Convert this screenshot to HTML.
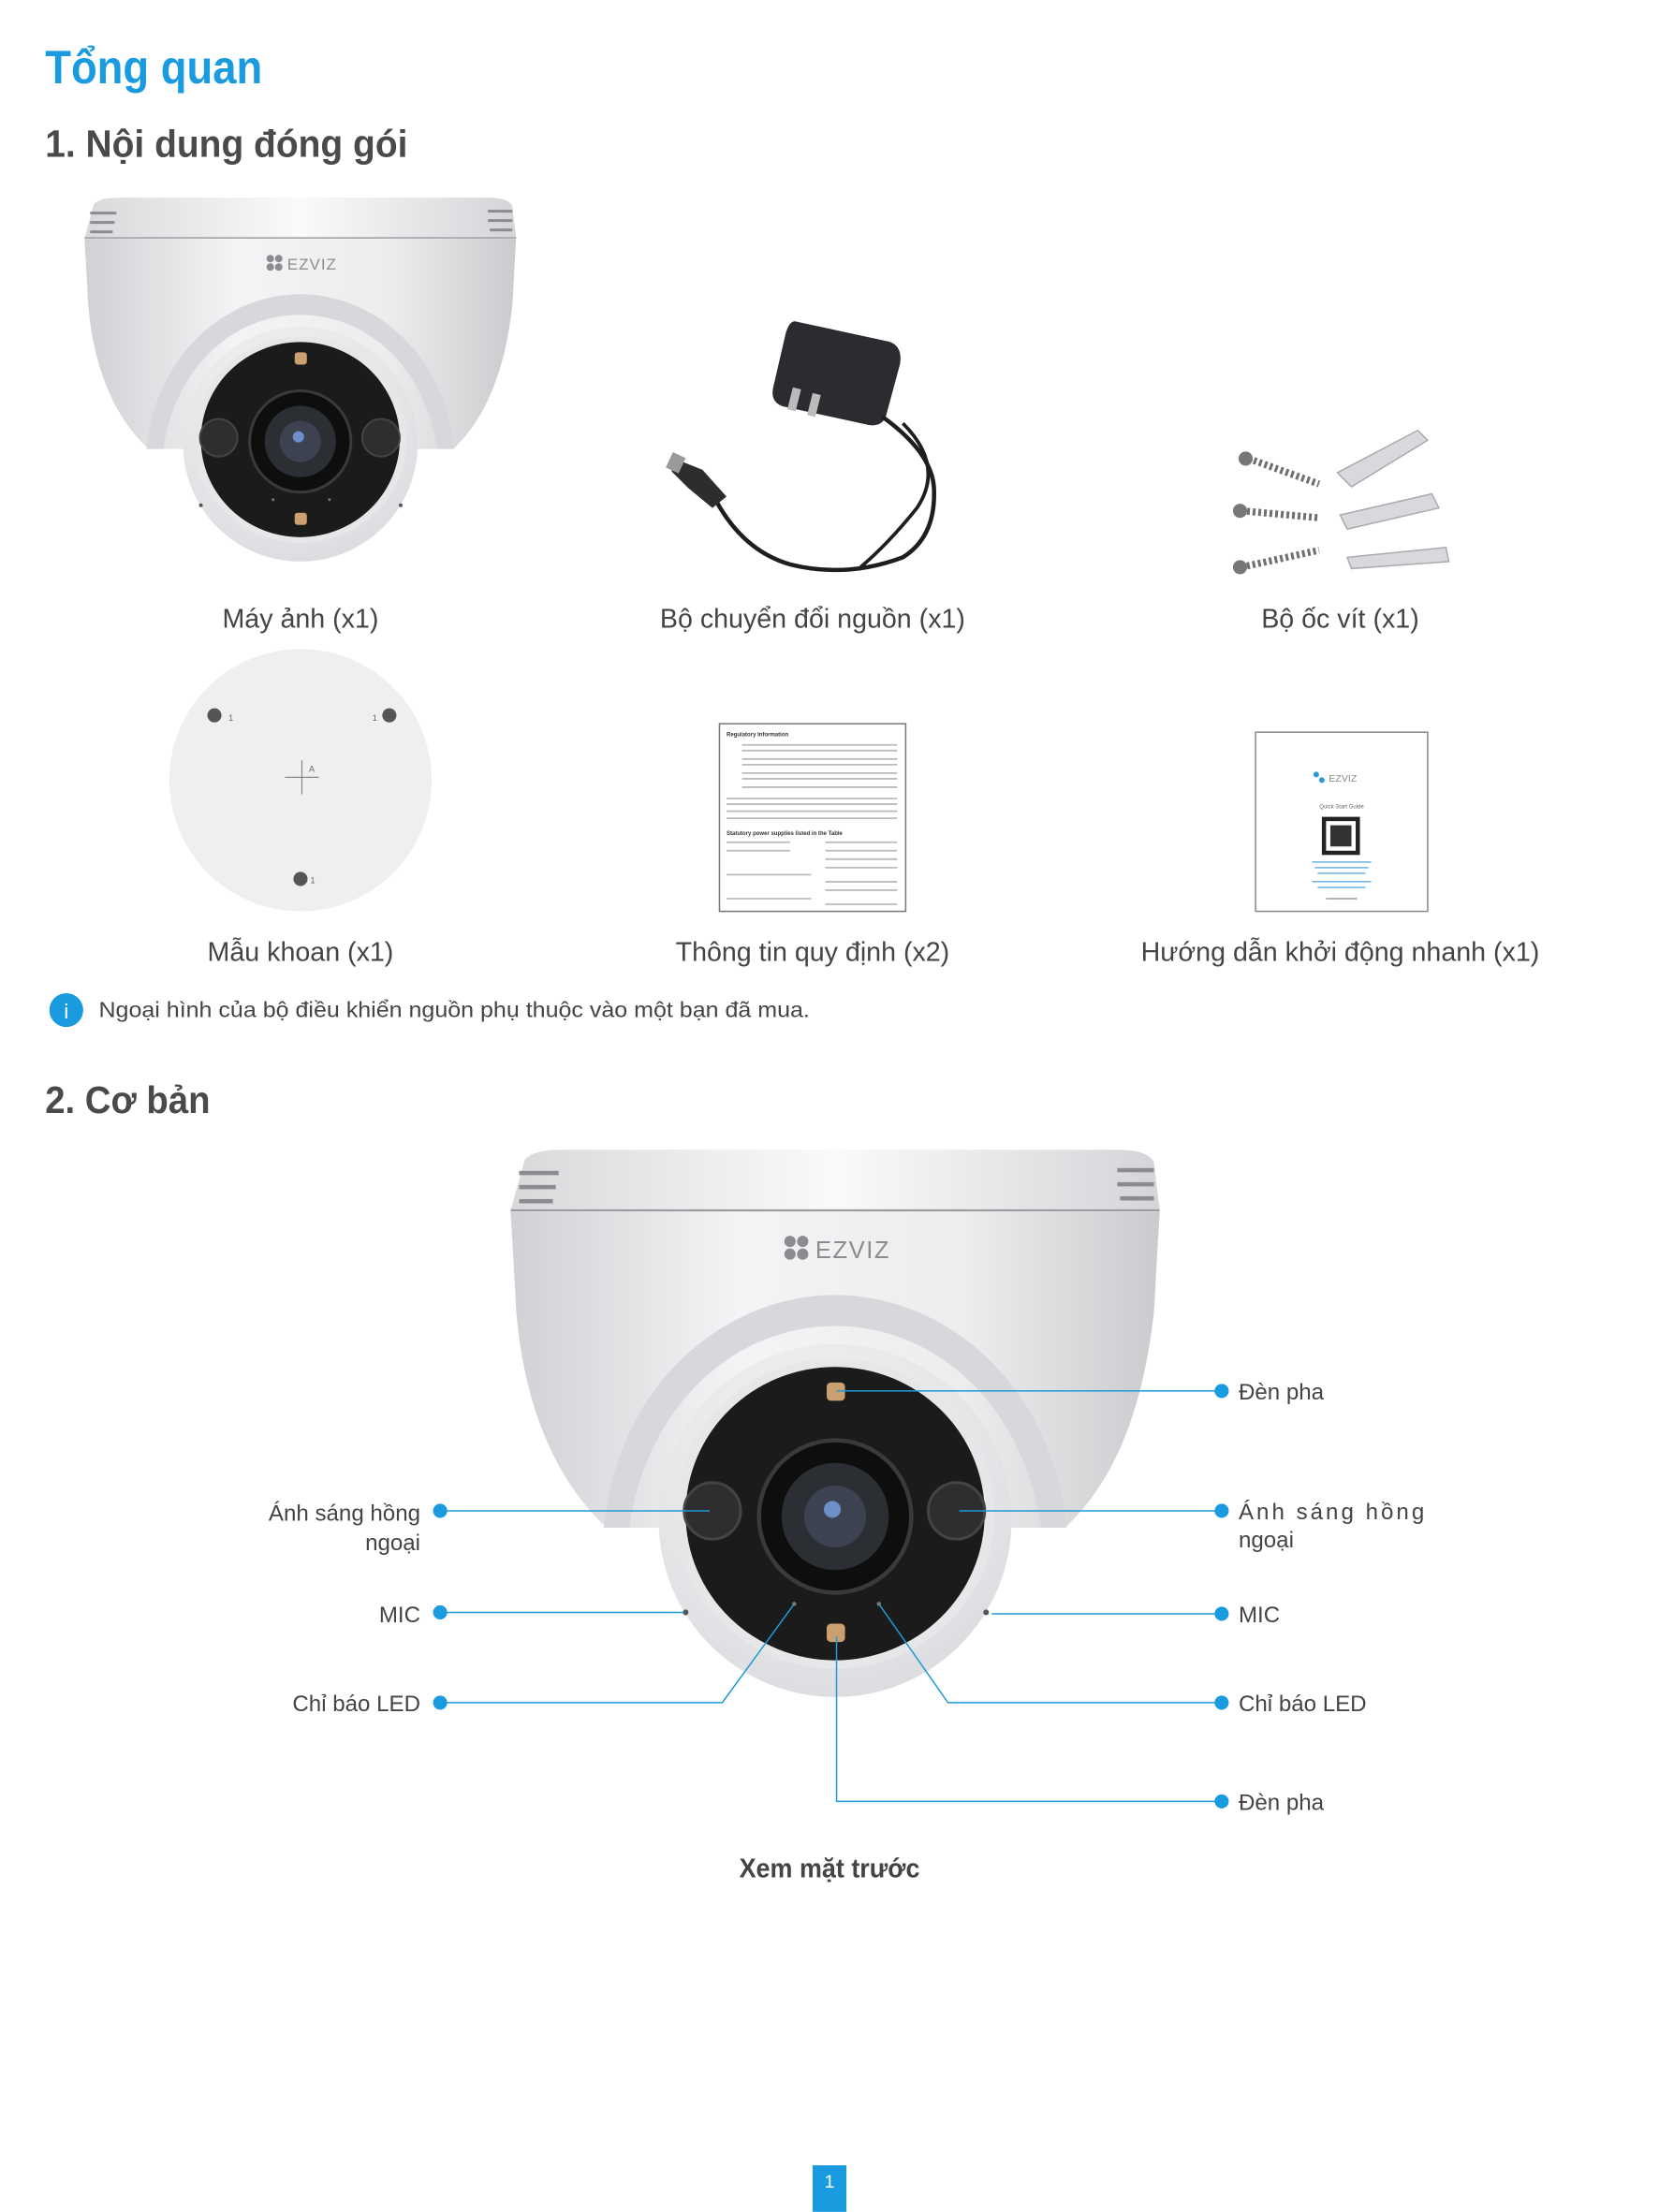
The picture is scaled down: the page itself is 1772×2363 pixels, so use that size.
<!DOCTYPE html>
<html><head><meta charset="utf-8"><style>
html,body{margin:0;padding:0;background:#fff;}
svg{display:block;}
text{font-family:"Liberation Sans",sans-serif;}
</style></head><body>
<svg width="1772" height="2363" viewBox="0 0 1176 1568" xmlns="http://www.w3.org/2000/svg">
<defs>
<linearGradient id="bodyG" x1="0" x2="1" y1="0" y2="0">
<stop offset="0" stop-color="#cfd1d4"/><stop offset="0.35" stop-color="#f3f4f5"/><stop offset="0.7" stop-color="#eceded"/><stop offset="1" stop-color="#c9cbce"/></linearGradient>
<linearGradient id="capG" x1="0" x2="1" y1="0" y2="0">
<stop offset="0" stop-color="#d8d9db"/><stop offset="0.5" stop-color="#fafafa"/><stop offset="1" stop-color="#d4d5d8"/></linearGradient>
<radialGradient id="ballG" cx="0.45" cy="0.35" r="0.7"><stop offset="0" stop-color="#fafafa"/><stop offset="1" stop-color="#d9dbde"/></radialGradient>
<g id="cam">
<path d="M372,822 Q378,815 398,815 L792,815 Q814,815 818,824 L822,858 L362,858 Z" fill="url(#capG)"/>
<line x1="362" y1="858" x2="822" y2="858" stroke="#9a9ca0" stroke-width="1.5"/>
<g fill="#8a8c90">
<rect x="368" y="830" width="28" height="3"/><rect x="368" y="840" width="26" height="3"/><rect x="368" y="850" width="24" height="3"/>
<rect x="792" y="828" width="26" height="3"/><rect x="792" y="838" width="26" height="3"/><rect x="794" y="848" width="24" height="3"/>
</g>
<path d="M362,859 L822,859 L818,930 C810,1000 790,1050 755,1083 L430,1083 C395,1050 372,1000 366,930 Z" fill="url(#bodyG)"/>
<text x="578" y="892" font-size="17" fill="#8a8c90" letter-spacing="1">EZVIZ</text>
<g fill="#8a8c90"><circle cx="560" cy="880" r="4"/><circle cx="569" cy="880" r="4"/><circle cx="560" cy="889" r="4"/><circle cx="569" cy="889" r="4"/></g>
<circle cx="592" cy="1078" r="125" fill="url(#ballG)"/>
<path d="M428,1083 C438,980 515,918 592,918 C669,918 746,980 756,1083 L738,1083 C726,998 665,940 592,940 C519,940 458,998 446,1083 Z" fill="#d6d8db"/>
<ellipse cx="592" cy="1073" rx="113" ry="110" fill="#e6e7e9"/>
<ellipse cx="592" cy="1073" rx="106" ry="104" fill="#1b1b1c"/>
<circle cx="592" cy="1075" r="54" fill="#0e0e0f" stroke="#3a3a3c" stroke-width="3"/>
<circle cx="592" cy="1075" r="38" fill="#2b2e33"/>
<circle cx="592" cy="1075" r="22" fill="#3d4250"/>
<circle cx="590" cy="1070" r="6" fill="#6d8fc8"/>
<circle cx="505" cy="1071" r="20" fill="#2e2e30" stroke="#444" stroke-width="2"/>
<circle cx="678" cy="1071" r="20" fill="#2e2e30" stroke="#444" stroke-width="2"/>
<rect x="586" y="980" width="13" height="13" rx="3" fill="#caa070"/>
<rect x="586" y="1151" width="13" height="13" rx="3" fill="#caa070"/>
<circle cx="563" cy="1137" r="1.5" fill="#777"/><circle cx="623" cy="1137" r="1.5" fill="#777"/>
<circle cx="486" cy="1143" r="2" fill="#555"/><circle cx="699" cy="1143" r="2" fill="#555"/>
</g>
</defs>

<text x="32" y="59" font-size="33" font-weight="bold" fill="#1a9be0" textLength="154" lengthAdjust="spacingAndGlyphs">Tổng quan</text>
<text x="32" y="111" font-size="27" font-weight="bold" fill="#4a4a4a" textLength="257" lengthAdjust="spacingAndGlyphs">1. Nội dung đóng gói</text>

<use href="#cam" transform="translate(-180.8,-402) scale(0.665)"/>

<!-- adapter -->
<g>
<path d="M565,228 L630,242 Q640,245 638,258 L628,295 Q625,303 615,301 L555,288 Q546,285 548,275 L557,236 Q560,226 565,228 Z" fill="#2b2c30"/>
<rect x="560" y="275" width="6" height="16" fill="#bbb" transform="rotate(14 563 283)"/>
<rect x="574" y="279" width="6" height="16" fill="#bbb" transform="rotate(14 577 287)"/>
<path d="M625,295 Q660,320 662,345 Q664,380 640,395 Q600,410 560,400 Q525,390 505,350" fill="none" stroke="#1e1e1e" stroke-width="3"/>
<path d="M640,300 Q670,330 650,360 Q630,385 610,402" fill="none" stroke="#1e1e1e" stroke-width="2.5"/>
<path d="M478,325 L498,333 L515,352 L505,360 L488,346 L476,334 Z" fill="#2d2d30"/>
<rect x="474" y="322" width="10" height="12" fill="#9a9a9a" transform="rotate(25 479 328)"/>
</g>

<!-- screws -->
<g>
<g stroke="#6e6f72" stroke-width="5" stroke-dasharray="2 2">
<line x1="885" y1="325" x2="935" y2="343"/>
<line x1="880" y1="362" x2="935" y2="367"/>
<line x1="880" y1="402" x2="935" y2="390"/>
</g>
<g fill="#777"><circle cx="883" cy="325" r="5"/><circle cx="879" cy="362" r="5"/><circle cx="879" cy="402" r="5"/></g>
<g fill="#d8d9dc" stroke="#a9abae">
<path d="M948,335 L1005,305 L1012,312 L958,345 Z"/>
<path d="M950,365 L1015,350 L1020,360 L955,375 Z"/>
<path d="M955,395 L1025,388 L1027,398 L958,403 Z"/>
</g>
</g>

<text x="213" y="445" font-size="19" fill="#444" text-anchor="middle">Máy ảnh (x1)</text>
<text x="576" y="445" font-size="19" fill="#444" text-anchor="middle">Bộ chuyển đổi nguồn (x1)</text>
<text x="950" y="445" font-size="19" fill="#444" text-anchor="middle">Bộ ốc vít (x1)</text>

<!-- drill template -->
<circle cx="213" cy="553" r="93" fill="#efefef"/>
<g fill="#555"><circle cx="152" cy="507" r="5"/><circle cx="276" cy="507" r="5"/><circle cx="213" cy="623" r="5"/></g>
<g stroke="#888" stroke-width="0.8"><line x1="202" y1="551" x2="226" y2="551"/><line x1="214" y1="539" x2="214" y2="563"/></g>
<text x="162" y="511" font-size="6" fill="#666">1</text><text x="264" y="511" font-size="6" fill="#666">1</text>
<text x="220" y="626" font-size="6" fill="#666">1</text><text x="219" y="547" font-size="6" fill="#666">A</text>

<!-- regulatory doc -->
<rect x="510" y="513" width="132" height="133" fill="#fff" stroke="#777" stroke-width="1"/>
<text x="515" y="522" font-size="4" fill="#333" font-weight="bold">Regulatory Information</text>
<g stroke="#bbb" stroke-width="1.2">
<line x1="526" y1="528" x2="636" y2="528"/><line x1="526" y1="532" x2="636" y2="532"/><line x1="526" y1="538" x2="636" y2="538"/><line x1="526" y1="542" x2="636" y2="542"/>
<line x1="526" y1="548" x2="636" y2="548"/><line x1="526" y1="552" x2="636" y2="552"/><line x1="526" y1="558" x2="636" y2="558"/><line x1="515" y1="566" x2="636" y2="566"/>
<line x1="515" y1="570" x2="636" y2="570"/><line x1="515" y1="575" x2="636" y2="575"/><line x1="515" y1="580" x2="636" y2="580"/>
<line x1="515" y1="597" x2="560" y2="597"/><line x1="585" y1="597" x2="636" y2="597"/><line x1="515" y1="603" x2="560" y2="603"/><line x1="585" y1="603" x2="636" y2="603"/>
<line x1="585" y1="609" x2="636" y2="609"/><line x1="585" y1="615" x2="636" y2="615"/><line x1="515" y1="620" x2="575" y2="620"/><line x1="585" y1="625" x2="636" y2="625"/>
<line x1="585" y1="631" x2="636" y2="631"/><line x1="515" y1="637" x2="575" y2="637"/><line x1="585" y1="641" x2="636" y2="641"/>
</g>
<text x="515" y="592" font-size="4" fill="#333" font-weight="bold">Statutory power supplies listed in the Table</text>

<!-- quick start guide -->
<rect x="890" y="519" width="122" height="127" fill="#fff" stroke="#888" stroke-width="1"/>
<text x="942" y="554" font-size="7" fill="#888">EZVIZ</text>
<g fill="#2b9ad6"><circle cx="933" cy="549" r="2"/><circle cx="937" cy="553" r="2"/></g>
<text x="951" y="573" font-size="4" fill="#666" text-anchor="middle">Quick Start Guide</text>
<rect x="937" y="579" width="27" height="27" fill="#222"/>
<rect x="940" y="582" width="21" height="21" fill="#fff"/>
<rect x="943" y="585" width="15" height="15" fill="#333"/>
<g stroke="#6ab3e0" stroke-width="1"><line x1="930" y1="611" x2="972" y2="611"/><line x1="932" y1="615" x2="970" y2="615"/><line x1="934" y1="619" x2="968" y2="619"/><line x1="930" y1="625" x2="972" y2="625"/><line x1="934" y1="629" x2="968" y2="629"/></g>
<line x1="940" y1="637" x2="962" y2="637" stroke="#999" stroke-width="1"/>

<text x="213" y="681" font-size="19" fill="#444" text-anchor="middle">Mẫu khoan (x1)</text>
<text x="576" y="681" font-size="19" fill="#444" text-anchor="middle">Thông tin quy định (x2)</text>
<text x="950" y="681" font-size="19" fill="#444" text-anchor="middle">Hướng dẫn khởi động nhanh (x1)</text>

<circle cx="47" cy="716" r="12" fill="#1a9be0"/>
<text x="47" y="722" font-size="15" fill="#fff" text-anchor="middle">i</text>
<text x="70" y="721" font-size="15.5" fill="#444" textLength="504" lengthAdjust="spacingAndGlyphs">Ngoại hình của bộ điều khiển nguồn phụ thuộc vào một bạn đã mua.</text>

<text x="32" y="789" font-size="27" font-weight="bold" fill="#4a4a4a" textLength="117" lengthAdjust="spacingAndGlyphs">2. Cơ bản</text>

<use href="#cam"/>

<!-- callouts -->
<g stroke="#1e9ad6" stroke-width="1" fill="none">
<polyline points="593,986 866,986"/>
<polyline points="680,1071 866,1071"/>
<polyline points="703,1144 866,1144"/>
<polyline points="623,1137 672,1207 866,1207"/>
<polyline points="593,1160 593,1277 866,1277"/>
<polyline points="312,1071 503,1071"/>
<polyline points="312,1143 485,1143"/>
<polyline points="312,1207 512,1207 563,1137"/>
</g>
<g fill="#1a9be0">
<circle cx="866" cy="986" r="5"/><circle cx="866" cy="1071" r="5"/><circle cx="866" cy="1144" r="5"/><circle cx="866" cy="1207" r="5"/><circle cx="866" cy="1277" r="5"/>
<circle cx="312" cy="1071" r="5"/><circle cx="312" cy="1143" r="5"/><circle cx="312" cy="1207" r="5"/>
</g>
<g font-size="16" fill="#444">
<text x="878" y="992">Đèn pha</text>
<text x="878" y="1077" letter-spacing="2">Ánh sáng hồng</text>
<text x="878" y="1097">ngoại</text>
<text x="878" y="1150">MIC</text>
<text x="878" y="1213">Chỉ báo LED</text>
<text x="878" y="1283">Đèn pha</text>
<text x="298" y="1078" text-anchor="end">Ánh sáng hồng</text>
<text x="298" y="1099" text-anchor="end">ngoại</text>
<text x="298" y="1150" text-anchor="end">MIC</text>
<text x="298" y="1213" text-anchor="end">Chỉ báo LED</text>
</g>
<text x="524" y="1331" font-size="19" font-weight="bold" fill="#444" textLength="128" lengthAdjust="spacingAndGlyphs">Xem mặt trước</text>

<rect x="576" y="1535" width="24" height="33" fill="#1a9be0"/>
<text x="588" y="1551" font-size="13" fill="#fff" text-anchor="middle">1</text>
</svg>
</body></html>
